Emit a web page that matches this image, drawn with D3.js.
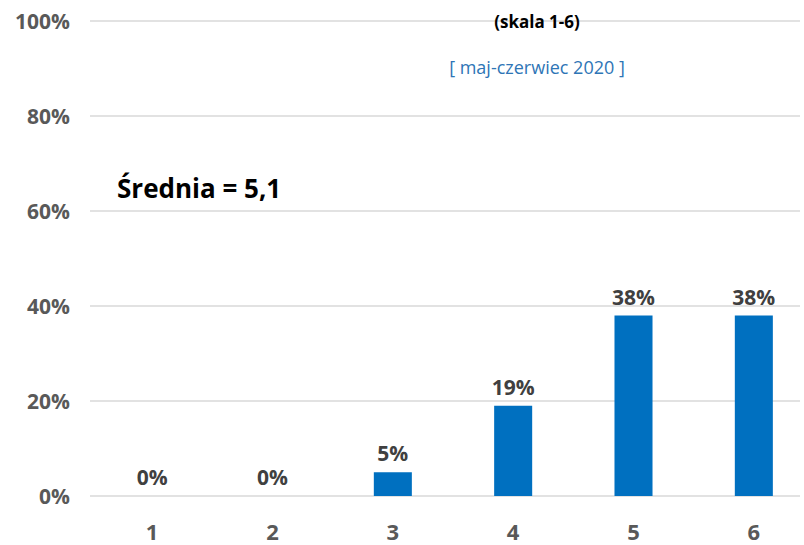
<html>
<script src='https://d3js.org/d3.v7.min.js'></script>
<style>
body { margin: 0; background: #fff; }
text { font-family: 'Open Sans', sans-serif; font-weight: bold; }
</style>
<body>
<svg width=804 height=545></svg>
<script>
var categories = ["1", "2", "3", "4", "5", "6"]
var values = [0, 0, 5, 19, 38, 38]
var labels = ["0%", "0%", "5%", "19%", "38%", "38%"]
var yTicks = [0, 20, 40, 60, 80, 100]

var svg = d3.select("svg")
var x = d3.scaleBand().domain(categories).range([92, 814]).paddingInner(0.684).paddingOuter(0.342)
var y = d3.scaleLinear().domain([0, 100]).range([496, 21])

// gridlines
svg.append("g").selectAll("line")
  .data(yTicks).enter().append("line")
  .attr("x1", 90).attr("x2", 800)
  .attr("y1", d => y(d)).attr("y2", d => y(d))
  .style("stroke", "#d9d9d9").style("stroke-width", 1.3)

// y labels
svg.append("g").selectAll("text")
  .data(yTicks).enter().append("text")
  .attr("x", 70).attr("y", d => y(d) + 7.5)
  .attr("text-anchor", "end")
  .style("font-size", "21px").style("fill", "#595959")
  .text(d => d + "%")

// bars
svg.append("g").selectAll("rect")
  .data(values).enter().append("rect")
  .attr("x", (d, i) => x(categories[i]))
  .attr("width", x.bandwidth())
  .attr("y", d => y(d))
  .attr("height", d => y(0) - y(d))
  .style("fill", "#0070c0")

// data labels
svg.append("g").selectAll("text")
  .data(values).enter().append("text")
  .attr("x", (d, i) => x(categories[i]) + x.bandwidth() / 2)
  .attr("y", d => y(d) - 11)
  .attr("text-anchor", "middle")
  .style("font-size", "21px").style("fill", "#404040")
  .text((d, i) => labels[i])

// x labels
svg.append("g").selectAll("text")
  .data(categories).enter().append("text")
  .attr("x", d => x(d) + x.bandwidth() / 2)
  .attr("y", 540)
  .attr("text-anchor", "middle")
  .style("font-size", "22px").style("fill", "#595959")
  .text(d => d)

svg.append("text").attr("x", 537).attr("y", 28).attr("text-anchor", "middle")
  .style("font-size", "17px").style("fill", "#000").text("(skala 1-6)")
svg.append("text").attr("x", 537).attr("y", 74).attr("text-anchor", "middle")
  .style("font-size", "18px").style("font-weight", "normal").style("fill", "#2e75b6").text("[ maj-czerwiec 2020 ]")
svg.append("text").attr("x", 117).attr("y", 198)
  .style("font-size", "26px").style("fill", "#000").text("Średnia = 5,1")
</script>
</body>
</html>
